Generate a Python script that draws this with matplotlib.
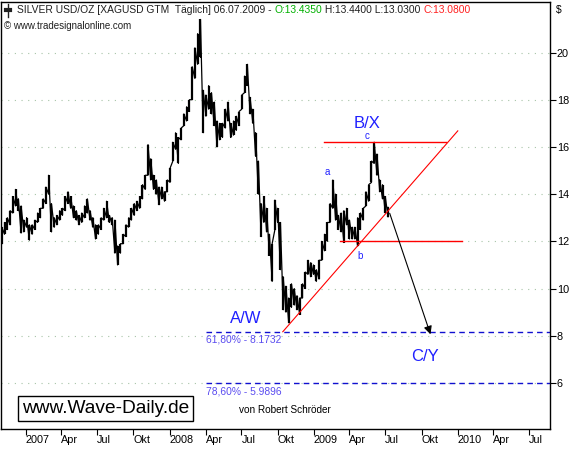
import pandas as pd
import matplotlib.pyplot as plt
import matplotlib.dates as mdates
from matplotlib.lines import Line2D

plt.rcParams['font.family'] = ['Liberation Sans', 'DejaVu Sans']

# weekly high / low, first week starts 2006-11-01
lows = [11.9, 12.3, 12.5, 12.7, 13.2, 13.5, 13.3, 12.35, 12.4, 12.6,
        12.05, 12.3, 12.5, 12.8, 13.0, 13.4, 13.6, 14.0, 12.4, 12.6,
        12.7, 12.9, 13.1, 13.3, 13.6, 13.4, 13.0, 12.9, 12.7, 12.8,
        13.0, 13.2, 12.9, 12.6, 12.1, 12.3, 12.5, 12.9, 13.0, 12.8,
        12.7, 11.5, 11.0, 11.5, 11.9, 12.2, 12.6, 12.9, 13.1, 13.3,
        13.4, 13.8, 14.2, 14.8, 14.6, 14.2, 14.0, 13.55, 13.8, 13.7,
        14.1, 14.5, 15.4, 15.9, 15.3, 16.3, 16.9, 17.1, 17.5, 18.0,
        18.9, 19.5, 19.8, 16.6, 17.3, 17.6, 17.4, 16.9, 16.0, 16.3,
        16.4, 16.8, 17.1, 16.4, 16.5, 16.7, 16.9, 17.6, 18.3, 18.6,
        17.4, 17.0, 15.6, 14.0, 12.2, 12.8, 12.4, 11.4, 10.3, 12.5,
        12.8, 10.8, 9.1, 9.0, 8.55, 9.2, 9.3, 9.1, 8.9, 9.6,
        10.0, 10.6, 10.5, 10.6, 10.3, 10.4, 11.2, 11.6, 12.0, 12.8,
        13.4, 12.9, 12.5, 12.4, 11.95, 12.7, 12.1, 12.1, 12.1, 11.8,
        12.5, 12.9, 13.5, 13.7, 14.5, 15.3, 14.8, 14.1, 13.8, 13.2,
        13.03]
highs = [12.6, 12.8, 13.0, 13.3, 13.9, 14.2, 13.8, 13.5, 12.9, 13.0,
         12.7, 12.7, 12.9, 13.2, 13.4, 13.8, 14.3, 14.8, 13.6, 13.0,
         13.1, 13.3, 13.4, 13.9, 14.1, 13.9, 13.5, 13.3, 13.1, 13.2,
         13.5, 13.8, 13.3, 13.0, 12.7, 12.7, 13.0, 13.4, 13.7, 13.1,
         13.0, 12.9, 11.8, 11.9, 12.3, 12.7, 13.0, 13.4, 13.6, 13.7,
         13.9, 14.4, 14.8, 16.1, 15.5, 14.8, 14.6, 14.3, 14.3, 14.1,
         14.6, 15.1, 16.2, 16.6, 16.4, 16.8, 17.4, 17.7, 18.0, 19.4,
         20.2, 20.8, 21.4, 18.4, 18.2, 18.6, 18.3, 17.9, 17.1, 17.0,
         17.0, 17.6, 17.9, 17.0, 17.1, 17.3, 17.5, 18.2, 19.0, 19.5,
         18.1, 17.6, 16.6, 15.4, 13.6, 13.9, 13.4, 12.3, 11.9, 13.75,
         13.4, 12.8, 10.5, 10.1, 9.6, 10.2, 10.0, 9.7, 9.6, 10.2,
         10.7, 11.2, 11.1, 11.0, 10.8, 11.2, 12.0, 12.3, 12.8, 13.6,
         14.6, 14.0, 13.1, 13.2, 13.3, 13.4, 12.9, 12.6, 12.6, 13.0,
         13.2, 13.4, 14.1, 14.4, 15.4, 16.2, 15.7, 14.6, 14.4, 13.9,
         13.44]
weeks = pd.date_range("2006-11-01", periods=len(highs), freq="7D")

# x axis ticks
tick_dates = pd.date_range("2007-01-01", "2010-07-01", freq="QS")
tick_labels = ["2007", "Apr", "Jul", "Okt", "2008", "Apr", "Jul", "Okt",
               "2009", "Apr", "Jul", "Okt", "2010", "Apr", "Jul"]

# wave analysis lines
fib_start = pd.Timestamp("2008-04-01")
fib_levels = [8.1732, 5.9896]
fib_labels = ["61,80% - 8.1732", "78,60% - 5.9896"]
resist = 16.2
resist_span = [pd.Timestamp("2009-01-26"), pd.Timestamp("2009-12-01")]
support = 12.0
support_span = [pd.Timestamp("2009-03-08"), pd.Timestamp("2010-01-11")]
trend_dates = [pd.Timestamp("2008-10-14"), pd.Timestamp("2010-01-01")]
trend_vals = [8.17, 16.68]
arrow_from = (pd.Timestamp("2009-07-10"), 13.3)
arrow_to = (pd.Timestamp("2009-10-26"), 7.95)

fig = plt.figure(figsize=(5.8, 4.49), dpi=100)
ax = fig.add_axes([1 / 580, 20 / 449, 549 / 580, 427 / 449])

ax.set_xlim(pd.Timestamp("2006-10-30"), pd.Timestamp("2010-08-23"))
ax.set_ylim(4.05, 22.14)

for v in range(6, 21, 2):
    ax.axhline(v, color="#a8c4a8", lw=0.8, ls=(0, (1, 5)), zorder=0)

# price bars
ax.vlines(weeks, lows, highs, color="black", lw=1.6, zorder=3)
zx, zy = [], []
for d, lo, hi in zip(weeks, lows, highs):
    zx += [d, d]
    zy += [lo, hi]
ax.plot(zx, zy, color="black", lw=0.9, zorder=3)

# fibonacci levels
xmax = ax.get_xlim()[1]
for lev, lab in zip(fib_levels, fib_labels):
    ax.plot([mdates.date2num(fib_start), xmax], [lev, lev], color="#1010d0",
            lw=1.0, dashes=(4, 3), zorder=2)
    ax.text(fib_start, lev - 0.12, lab, color="#5a4cf0", fontsize=7.4,
            va="top", ha="left")

ax.plot(resist_span, [resist, resist], color="red", lw=1.0, zorder=4)
ax.plot(support_span, [support, support], color="red", lw=1.0, zorder=4)
ax.plot(trend_dates, trend_vals, color="red", lw=0.8, zorder=4)
ax.annotate("", xy=arrow_to, xytext=arrow_from,
            arrowprops=dict(arrowstyle="-|>", color="black", lw=0.8,
                            mutation_scale=12), zorder=5)

blue = "#2020ff"
ax.text(pd.Timestamp("2008-07-11"), 8.75, "A/W", color=blue, fontsize=12, ha="center", va="center")
ax.text(pd.Timestamp("2009-05-17"), 17.0, "B/X", color=blue, fontsize=12, ha="center", va="center")
ax.text(pd.Timestamp("2009-10-09"), 7.12, "C/Y", color=blue, fontsize=12, ha="center", va="center")
ax.text(pd.Timestamp("2009-05-17"), 16.47, "c", color=blue, fontsize=7, ha="center", va="center")
ax.text(pd.Timestamp("2009-02-05"), 14.94, "a", color=blue, fontsize=7, ha="center", va="center")
ax.text(pd.Timestamp("2009-04-29"), 11.38, "b", color=blue, fontsize=7, ha="center", va="center")

ax.text(0.038, 0.048, "www.Wave-Daily.de", transform=ax.transAxes, fontsize=13.8,
        ha="left", va="center",
        bbox=dict(boxstyle="square,pad=0.2", fc="white", ec="black", lw=1))
ax.text(238 / 549, 0.045, "von Robert Schröder", transform=ax.transAxes,
        fontsize=7.2, ha="left", va="center")

# axes styling
ax.yaxis.tick_right()
ax.set_yticks(range(6, 21, 2))
ax.tick_params(axis="y", direction="out", length=4, pad=1, labelsize=7.8, width=0.8)
ax.set_xticks(tick_dates)
ax.set_xticklabels(tick_labels, ha="left")
ax.tick_params(axis="x", direction="out", length=4, pad=0, labelsize=7.8, width=0.8)
for s in ax.spines.values():
    s.set_linewidth(1.0)

# header
renderer = fig.canvas.get_renderer()
hx = 17 / 580
hy = 1 - 10 / 449
pieces = [("SILVER USD/OZ [XAGUSD GTM  Täglich] 06.07.2009 - ", "#202020"),
          ("O:13.4350", "#00b000"),
          (" H:13.4400 L:13.0300 ", "#202020"),
          ("C:13.0800", "#ff2020")]
for s, c in pieces:
    t = fig.text(hx, hy, s, color=c, fontsize=7.4, va="center", ha="left")
    hx += t.get_window_extent(renderer).width / fig.bbox.width
fig.add_artist(Line2D([8 / 580, 8 / 580], [1 - 4 / 449, 1 - 17 / 449], color="#202020", lw=1))
fig.add_artist(Line2D([6 / 580, 10 / 580], [1 - 10 / 449, 1 - 10 / 449], color="#202020", lw=3))
fig.text(4 / 580, 1 - 26 / 449, "© www.tradesignalonline.com", fontsize=7,
         va="center", ha="left", color="#202020")
fig.text(556 / 580, 1 - 10 / 449, "$", fontsize=7.4, va="center", ha="left")

fig.savefig("out.png", dpi=100)
